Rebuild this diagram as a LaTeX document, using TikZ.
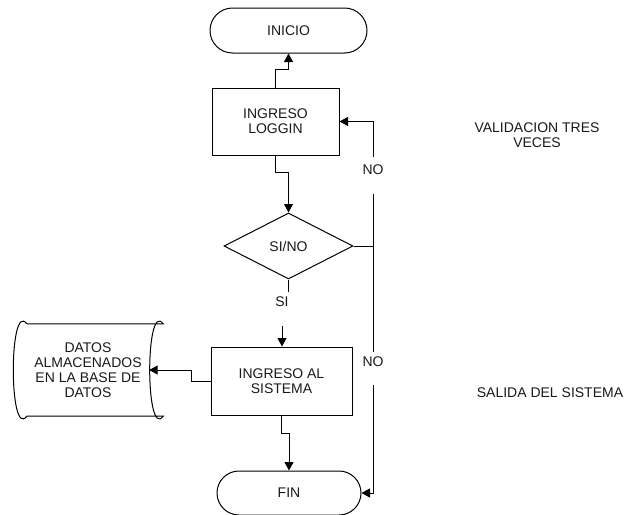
\documentclass[tikz,border=0pt]{standalone}
\usepackage{fontspec}
\setmainfont{Liberation Sans}
\usetikzlibrary{arrows.meta,shapes.geometric,shapes.misc}
\begin{document}
\begin{tikzpicture}[x=1pt,y=-1pt,
  every node/.style={font=\fontsize{14}{15}\selectfont, text=black!90, align=center},
  line/.style={draw=black, line width=1pt},
  arr/.style={line, -{Triangle[length=8.5pt,width=9pt]}},
  term/.style={draw, line width=1pt, rounded rectangle, inner sep=0pt},
  proc/.style={draw, line width=1pt, rectangle, inner sep=0pt},
  decide/.style={draw, line width=1pt, diamond, inner sep=0pt, minimum width=129pt, minimum height=66pt},
  lbl/.style={inner sep=1pt}
]
\useasboundingbox (0,0) rectangle (628,514);

% main flow
\node[term, minimum width=157pt, minimum height=45pt] (ini) at (288.5,30.5) {INICIO};
\node[proc, minimum width=127pt, minimum height=67pt] (log) at (275.5,121.5) {INGRESO\\LOGGIN};
\node[decide] (dec) at (288.5,246) {SI/NO};
\node[proc, minimum width=141pt, minimum height=68pt] (sis) at (281.5,381) {INGRESO AL\\SISTEMA};
\node[term, minimum width=144pt, minimum height=44pt] (fin) at (289,493) {FIN};

% stored data: text area, outline drawn from its corners
\node[minimum width=122pt, minimum height=92pt, inner sep=0pt] (datos) at (88,370) {DATOS\\ALMACENADOS\\EN LA BASE DE\\DATOS};
\draw[line] (datos.north west) -- ([xshift=14pt]datos.north east)
  .. controls ([xshift=-4pt,yshift=24pt]datos.north east) and ([xshift=-4pt,yshift=-24pt]datos.south east) .. ([xshift=14pt]datos.south east)
  -- (datos.south west)
  .. controls ([xshift=-18pt,yshift=-24pt]datos.south west) and ([xshift=-18pt,yshift=24pt]datos.north west) .. (datos.north west);

% side labels
\node[lbl] (si) at (282,302) {SI};
\node[lbl] (no1) at (373,170) {NO};
\node[lbl] (no2) at (373,362) {NO};
\node (val) at (537,135.5) {VALIDACION TRES\\VECES};
\node (sal) at (550,393) {SALIDA DEL SISTEMA};

% connector ends around the labels
\coordinate (siend) at (288.5,292);
\coordinate (sistart) at (282,326);
\coordinate (upA) at (373,157);
\coordinate (midA) at (373,194);
\coordinate (midB) at (373,352);
\coordinate (lowA) at (373,385);

% connectors
\draw[arr] (log.north) -- ++(0,-18) -| (ini.south);
\draw[arr] (log.south) -- ++(0,17) -| (dec.north);
\draw[line] (dec.south) -- (siend);
\draw[arr] (sistart) -- (sistart |- sis.north);
\draw[arr] (sis.south) -- ++(0,18) -| (fin.north);
\draw[arr] (sis.west) -- ++(-19,0) |- (datos.east);
\draw[arr] (upA) |- (log.east);
\draw[line] (midA) -- (midB);
\draw[line] (dec.east) -- (dec.east -| midA);
\draw[arr] (lowA) |- (fin.east);
\end{tikzpicture}
\end{document}
